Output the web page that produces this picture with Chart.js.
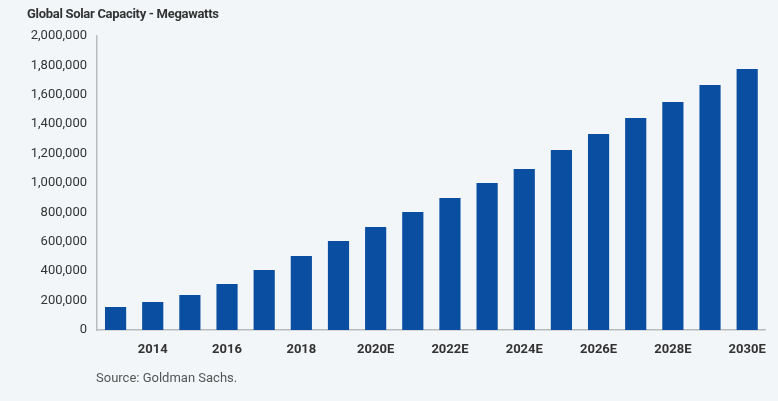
<!DOCTYPE html>
<html>
<head>
<meta charset="utf-8">
<script src="https://cdn.jsdelivr.net/npm/chart.js@4"></script>
<style>
  html, body { margin:0; padding:0; background:#f2f6f8; }
  #wrap { position:relative; width:778px; height:401px; overflow:hidden; background:#f2f6f8; }
  #c { position:absolute; left:0; top:0; }
  .title { position:absolute; left:27px; top:6px; font:bold 13px Roboto,sans-serif; letter-spacing:-0.3px; color:#333; white-space:nowrap; transform-origin:0 0; }
  .source { position:absolute; left:96px; top:370px; font:13px Roboto,sans-serif; color:#555; white-space:nowrap; }
</style>
</head>
<body>
<div id="wrap">
  <canvas id="c" width="778" height="401"></canvas>
  <div class="title">Global Solar Capacity - Megawatts</div>
  <div class="source">Source: Goldman Sachs.</div>
</div>
<script>
const categories = ['2013','2014','2015','2016','2017','2018','2019','2020E','2021E','2022E','2023E','2024E','2025E','2026E','2027E','2028E','2029E','2030E'];
const capacityMW = [156000,190000,238000,313000,408000,503000,605000,700000,803000,898000,1000000,1095000,1224000,1333000,1442000,1551000,1667000,1776000];
const yTicksMax = 2000000;
const yTickStep = 200000;

const FONT = "Roboto, sans-serif";

new Chart(document.getElementById('c'), {
  type: 'bar',
  data: {
    labels: categories,
    datasets: [{
      data: capacityMW,
      backgroundColor: '#0a4ea1',
      borderWidth: 0,
      categoryPercentage: 1.0,
      barPercentage: 0.57
    }]
  },
  options: {
    responsive: false,
    animation: false,
    layout: { padding: { left: 8, right: 9, top: 36, bottom: 31 } },
    plugins: { legend: { display: false }, tooltip: { enabled: false }, title: { display: false } },
    scales: {
      x: {
        grid: { display: false, drawTicks: false },
        border: { display: true, color: '#b8bcbf', width: 1.5 },
        ticks: {
          autoSkip: false, maxRotation: 0, padding: 12,
          color: '#333',
          font: { family: FONT, size: 13, weight: 'bold' },
          callback: function(v, i) { return i % 2 === 1 ? categories[i] : ''; }
        },
        afterFit: function(s) { s.height = 40; }
      },
      y: {
        min: 0, max: yTicksMax,
        grid: { display: false, drawTicks: false },
        border: { display: true, color: '#b8bcbf', width: 1.5 },
        ticks: {
          stepSize: yTickStep, padding: 10,
          color: '#333',
          font: { family: FONT, size: 13 },
          callback: function(v) { return Number(v).toLocaleString('en-US'); }
        },
        afterFit: function(s) { s.width = 89; }
      }
    }
  }
});
</script>
</body>
</html>
